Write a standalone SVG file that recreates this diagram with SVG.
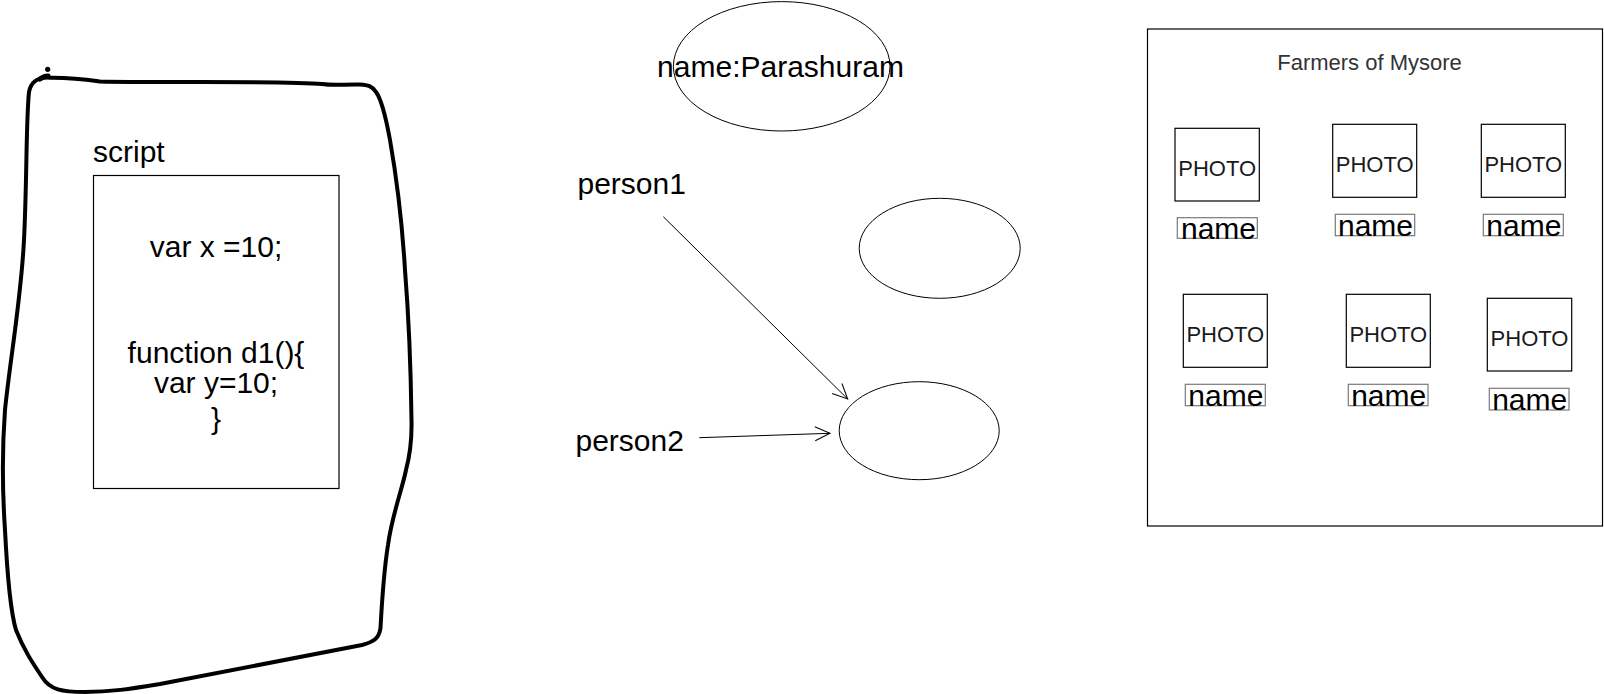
<svg xmlns="http://www.w3.org/2000/svg" width="1604" height="694" viewBox="0 0 1604 694">
<style>
.t{font-family:"Liberation Sans",Arial,sans-serif;fill:#000}
.big{font-size:30px}
.ph{font-size:22px;fill:#1a1a1a}
.box{fill:#fff;stroke:#000;stroke-width:1.2}
.nb{fill:none;stroke:#7a7a7a;stroke-width:1.2}
.ell{fill:#fff;stroke:#000;stroke-width:1}
.edge{fill:none;stroke:#000;stroke-width:1}
</style>
<defs>
<marker id="open" markerUnits="userSpaceOnUse" markerWidth="20" markerHeight="16" viewBox="0 0 20 16" refX="16" refY="8" orient="auto">
<path d="M1,1 L16,8 L1,15" fill="none" stroke="#000" stroke-width="1"/>
</marker>
</defs>
<rect width="1604" height="694" fill="#fff"/>

<g id="freehand">
<path d="M50,77.7 C38,77 31,81 29,92 C26,120 27,180 24,240 C21,300 10,360 5,410 C2,450 3,500 5,530 C7,570 10,610 16,630 C24,650 32,662 42,677 C50,690 62,692 85,692 C110,692 130,689 160,684 L362,645 C373,642 379,639 380.5,628 C382,600 384,570 388,545 C392,515 402,490 406,470 C410,455 412,440 411.5,420 C411,380 409,320 405,270 C402,220 397,180 390,140 C386,118 382,100 376,92 C372,86 368,85 360,84.5 C345,84 335,86 322,84 C300,82 250,82 200,82 C150,82 110,82 100,81.5 C90,80 75,77.5 50,77.7 Z" fill="none" stroke="#000" stroke-width="4" stroke-linejoin="round"/>
<path d="M40,79 C43,77 45,75.5 48,76" fill="none" stroke="#000" stroke-width="5" stroke-linecap="round"/>
<circle cx="47.7" cy="69.3" r="2.6" fill="#000"/>
</g>

<g id="script">
<text class="t big" x="93" y="162">script</text>
<rect class="box" x="93.5" y="175.5" width="245.5" height="313"/>
<text class="t big" x="216" y="257" text-anchor="middle">var x =10;</text>
<text class="t big" x="216" y="363" text-anchor="middle">function d1(){</text>
<text class="t big" x="216" y="392.5" text-anchor="middle">var y=10;</text>
<text class="t big" x="216" y="429" text-anchor="middle">}</text>
</g>

<g id="ellipse-name">
<ellipse class="ell" cx="781.7" cy="66.3" rx="108.3" ry="64.7"/>
<text class="t big" x="780.5" y="76.7" text-anchor="middle">name:Parashuram</text>
</g>

<g id="ellipse-mid">
<ellipse class="ell" cx="939.7" cy="248.3" rx="80.5" ry="50"/>
</g>

<g id="ellipse-bottom">
<ellipse class="ell" cx="919.2" cy="430.7" rx="80" ry="49"/>
</g>

<g id="person1">
<text class="t big" x="577.5" y="194.3">person1</text>
</g>
<g id="person2">
<text class="t big" x="575.5" y="450.7">person2</text>
</g>

<g id="connectors">
<line class="edge" x1="663.3" y1="216.7" x2="847.7" y2="399" marker-end="url(#open)"/>
<line class="edge" x1="699.3" y1="437.7" x2="830" y2="433.3" marker-end="url(#open)"/>
</g>

<g id="farmers">
<rect class="box" x="1147.5" y="29" width="455" height="497"/>
<text class="t" x="1369.5" y="70" font-size="22" text-anchor="middle" style="fill:#333">Farmers of Mysore</text>
</g>

<g id="farmer1">
<rect class="box" x="1175" y="128.3" width="84.3" height="72.7"/>
<text class="t ph" x="1217.2" y="175.7" text-anchor="middle">PHOTO</text>
<rect class="nb" x="1177.3" y="217.7" width="80" height="20.6"/>
<text class="t big" x="1218.5" y="239" text-anchor="middle">name</text>
</g>
<g id="farmer2">
<rect class="box" x="1332.7" y="124.3" width="84" height="73"/>
<text class="t ph" x="1374.7" y="171.7" text-anchor="middle">PHOTO</text>
<rect class="nb" x="1335.3" y="214.3" width="79.4" height="21.4"/>
<text class="t big" x="1375.5" y="235.5" text-anchor="middle">name</text>
</g>
<g id="farmer3">
<rect class="box" x="1481.3" y="124.3" width="84" height="73"/>
<text class="t ph" x="1523.3" y="171.7" text-anchor="middle">PHOTO</text>
<rect class="nb" x="1483.3" y="214.3" width="80" height="21.4"/>
<text class="t big" x="1523.8" y="235.5" text-anchor="middle">name</text>
</g>
<g id="farmer4">
<rect class="box" x="1183.3" y="294.3" width="84" height="73"/>
<text class="t ph" x="1225.3" y="341.7" text-anchor="middle">PHOTO</text>
<rect class="nb" x="1185.3" y="384.3" width="80" height="21.4"/>
<text class="t big" x="1225.8" y="405.5" text-anchor="middle">name</text>
</g>
<g id="farmer5">
<rect class="box" x="1346.3" y="294.3" width="84" height="73"/>
<text class="t ph" x="1388.3" y="341.7" text-anchor="middle">PHOTO</text>
<rect class="nb" x="1348.3" y="384.3" width="79.7" height="21.4"/>
<text class="t big" x="1388.7" y="405.5" text-anchor="middle">name</text>
</g>
<g id="farmer6">
<rect class="box" x="1487.3" y="298.3" width="84.4" height="72.7"/>
<text class="t ph" x="1529.5" y="346" text-anchor="middle">PHOTO</text>
<rect class="nb" x="1489.3" y="388.3" width="79.7" height="21.7"/>
<text class="t big" x="1529.7" y="409.8" text-anchor="middle">name</text>
</g>
</svg>
